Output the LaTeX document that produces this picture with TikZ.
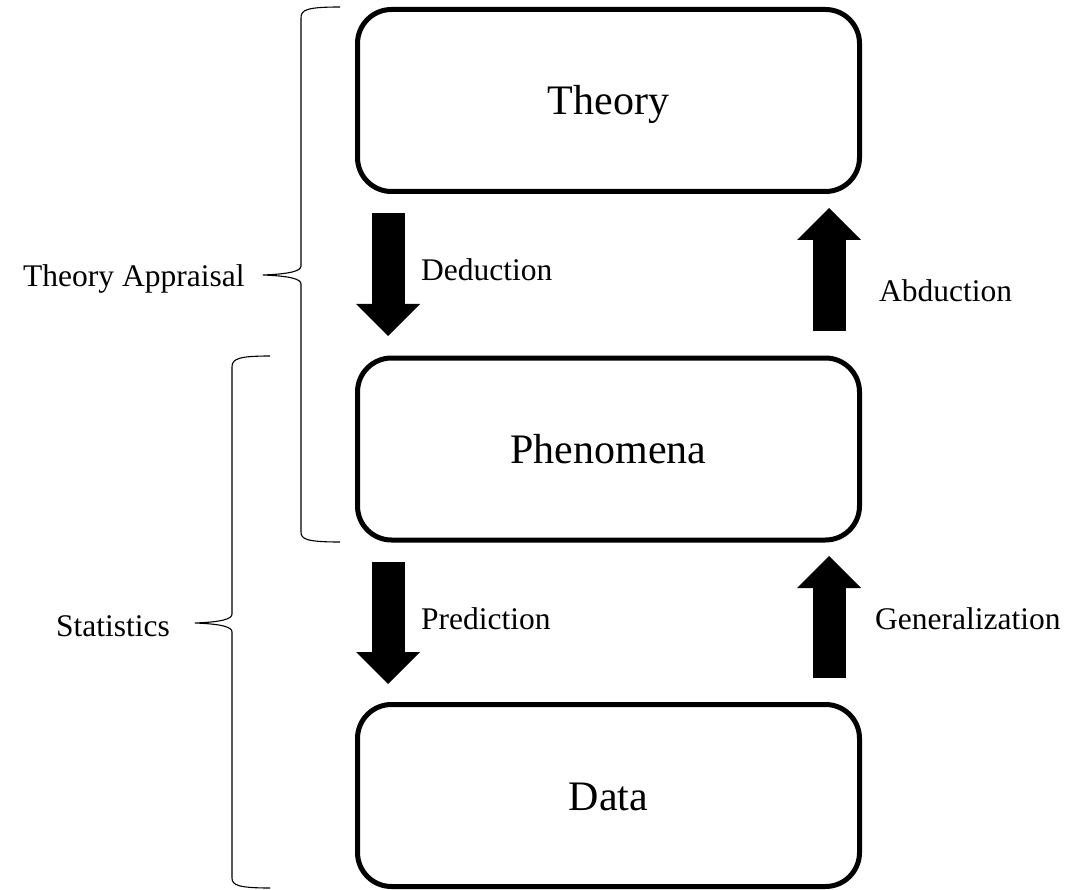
\documentclass[tikz,border=0pt]{standalone}
\usepackage{fontspec}
\setmainfont{Liberation Serif}
\usetikzlibrary{arrows.meta}
\begin{document}
\begin{tikzpicture}[x=1pt,y=-1pt,
  stagebox/.style={draw=black, line width=5pt, rounded corners=34pt,
    minimum width=502pt, minimum height=182pt, inner sep=0pt,
    text height=29pt, text depth=0pt, font=\fontsize{42}{50}\selectfont},
  lbl/.style={anchor=base west, inner sep=0pt, font=\fontsize{31.5}{38}\selectfont},
  blockarrow/.style={line width=33pt, -{Triangle[width=64pt,length=32pt,line width=0pt]}},
  bracepath/.style={line width=1.1pt}]
\useasboundingbox (0,0) rectangle (1089,890);
\fill[white] (0,0) rectangle (1089,890);

\node[stagebox] (theory) at (608.5,100.5) {Theory};
\node[stagebox] (phen) at (608.5,449) {Phenomena};
\node[stagebox] (data) at (608.5,795.5) {Data};

% block arrows
\coordinate (dedA) at (388,213);  \coordinate (dedB) at (388,336);
\coordinate (abdA) at (829,331);  \coordinate (abdB) at (829,208);
\coordinate (preA) at (388,562);  \coordinate (preB) at (388,684);
\coordinate (genA) at (829,678);  \coordinate (genB) at (829,556);
\draw[blockarrow] (dedA) -- (dedB);
\draw[blockarrow] (abdA) -- (abdB);
\draw[blockarrow] (preA) -- (preB);
\draw[blockarrow] (genA) -- (genB);

\node[lbl] (ded) at (421,281) {Deduction};
\node[lbl] (abd) at (879,302) {Abduction};
\node[lbl] (pre) at (421,629) {Prediction};
\node[lbl] (gen) at (875,629) {Generalization};

% braces
\coordinate (b1top) at (340,7);
\coordinate (b1tip) at (263,275);
\coordinate (b1bot) at (340,542);
\draw[bracepath] (b1top) .. controls (306,7) and (301,10) .. (301,18)
  -- (301,266) .. controls (301,271) and (290,274) .. (b1tip)
  .. controls (290,276) and (301,279) .. (301,284)
  -- (301,532) .. controls (301,539) and (306,542) .. (b1bot);
\node[lbl] (ta) at (23,287) {Theory Appraisal};

\coordinate (b2top) at (270,356);
\coordinate (b2tip) at (195,623);
\coordinate (b2bot) at (270,888);
\draw[bracepath] (b2top) .. controls (238,356) and (232,359) .. (232,367)
  -- (232,614) .. controls (232,619) and (222,622) .. (b2tip)
  .. controls (222,624) and (232,627) .. (232,632)
  -- (232,878) .. controls (232,885) and (238,888) .. (b2bot);
\node[lbl] (st) at (56,636) {Statistics};
\end{tikzpicture}
\end{document}
